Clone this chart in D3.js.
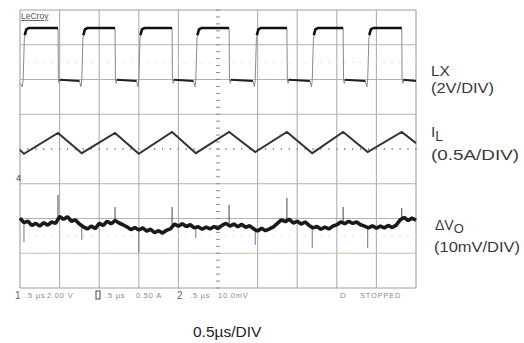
<!DOCTYPE html>
<html><head><meta charset="utf-8">
<script src="https://cdn.jsdelivr.net/npm/d3@7"></script>
<style>
html,body{margin:0;padding:0;background:#fff;}
svg{display:block;font-family:"Liberation Sans",Arial,sans-serif;}
</style></head>
<body>
<svg id="c" width="524" height="343"></svg>
<script>
// ---- data (time in µs, values in screen divisions) ----
const timeTicks = [0,0.5,1,1.5,2,2.5,3,3.5,4,4.5,5];
const divTicks = [-4,-3,-2,-1,0,1,2,3,4];
// LX switching node
const lxRise = [0.04,0.78,1.50,2.22,2.97,3.69,4.39];
const lxFall = [0.48,1.20,1.92,2.64,3.37,4.08,4.82];
const lxHigh = 3.48, lxLow = 1.99;
// inductor current
const ilTime  = [0,0.05,0.48,0.78,1.20,1.50,1.92,2.22,2.64,2.97,3.37,3.69,4.08,4.39,4.82,5.0];
const ilValue = [-0.03,-0.14,0.46,-0.12,0.46,-0.14,0.49,-0.12,0.49,-0.09,0.49,-0.12,0.49,-0.09,0.49,0.17];
// output ripple (every 0.05 µs)
const voValue = [-1.99,-2.12,-2.08,-2.20,-2.14,-2.22,-2.12,-2.19,-2.10,-2.14,
 -1.94,-2.02,-1.95,-2.08,-2.04,-2.16,-2.24,-2.30,-2.22,-2.29,
 -2.14,-2.20,-2.08,-2.15,-2.06,-2.13,-2.18,-2.24,-2.32,-2.26,
 -2.33,-2.27,-2.36,-2.31,-2.41,-2.35,-2.42,-2.34,-2.30,-2.16,
 -2.22,-2.15,-2.23,-2.18,-2.27,-2.24,-2.31,-2.25,-2.30,-2.23,
 -2.29,-2.20,-2.14,-2.22,-2.16,-2.24,-2.17,-2.25,-2.21,-2.30,
 -2.36,-2.28,-2.35,-2.30,-2.24,-2.14,-2.04,-2.09,-2.02,-2.13,
 -2.08,-2.16,-2.10,-2.20,-2.27,-2.23,-2.31,-2.25,-2.30,-2.22,
 -2.18,-2.10,-2.15,-2.08,-2.14,-2.10,-2.18,-2.22,-2.27,-2.21,
 -2.28,-2.22,-2.27,-2.20,-2.26,-2.19,-2.04,-1.97,-2.06,-1.99,-2.05];
const voStep = 0.05;
const spikeTime  = [0.48,1.20,1.92,2.64,3.37,4.08,4.82, 0.05,0.78,1.50,2.22,2.97,3.69,4.39];
const spikeValue = [-1.32,-1.67,-1.67,-1.61,-1.41,-1.67,-1.70, -2.68,-2.62,-2.99,-2.56,-2.76,-2.85,-2.85];
const channelLabels = ["LX","(2V/DIV)","(0.5A/DIV)","(10mV/DIV)"];
const statusTokens = [".5 µs","2.00 V",".5 µs","0.50 A",".5 µs","10.0mV","STOPPED"];

const svg = d3.select("#c");
const x = d3.scaleLinear().domain([0,5]).range([20,416]);
const y = d3.scaleLinear().domain([-4,4]).range([288,10]);

// grid
const g = svg.append("g");
g.selectAll("line.v").data(timeTicks.filter(t=>t!==2.5)).join("line")
  .attr("x1",d=>x(d)).attr("x2",d=>x(d)).attr("y1",y(4)).attr("y2",y(-4))
  .attr("stroke",d=>(d===0||d===5)?"#a0a0a0":"#aaaebe").attr("stroke-width",1.1);
g.selectAll("line.h").data(divTicks.filter(d=>d!==0)).join("line")
  .attr("x1",x(0)).attr("x2",x(5)).attr("y1",d=>y(d)).attr("y2",d=>y(d))
  .attr("stroke",d=>(Math.abs(d)===4)?"#a0a0a0":(d===-3?"#c2c2a8":"#b2b2ae")).attr("stroke-width",1.1);
// center dotted axes
const minorT = d3.range(0,5.0001,0.1);
g.selectAll("line.cx").data(minorT).join("line")
  .attr("x1",d=>x(d)).attr("x2",d=>x(d)).attr("y1",y(0)-1).attr("y2",y(0)+1)
  .attr("stroke","#8c8c8c").attr("stroke-width",1.2);
const minorD = d3.range(-4,4.0001,0.2);
g.selectAll("line.cy").data(minorD).join("line")
  .attr("x1",x(2.5)-2).attr("x2",x(2.5)+2).attr("y1",d=>y(d)).attr("y2",d=>y(d))
  .attr("stroke","#8c8c8c").attr("stroke-width",1);
// faint dotted reference lines
[2.5,-2.5].forEach(v=>{
  g.append("line").attr("x1",x(0)).attr("x2",x(5)).attr("y1",y(v)).attr("y2",y(v))
   .attr("stroke","#dadada").attr("stroke-dasharray","1.5,6.4");
});

// LX trace
const lxPts = [[0,lxLow-0.1]];
lxRise.forEach((r,i)=>{
  const f = lxFall[i];
  lxPts.push([r-0.01,lxLow-0.2],[r,lxLow],[r+0.015,lxHigh-0.3],[r+0.035,lxHigh-0.06],[r+0.07,lxHigh],[f,lxHigh],[f+0.005,lxLow],[f+0.015,lxLow-0.1],[f+0.025,lxLow]);
  const nr = lxRise[i+1];
  if(nr!==undefined) lxPts.push([nr-0.03,lxLow-0.03]);
  else lxPts.push([5,lxLow-0.03]);
});
const line = d3.line().x(d=>x(d[0])).y(d=>y(d[1]));
svg.append("path").attr("d",line(lxPts)).attr("fill","none").attr("stroke","#8a8a8a").attr("stroke-width",1);
lxRise.forEach((r,i)=>{
  const f=lxFall[i];
  svg.append("path").attr("d",line([[r+0.02,lxHigh-0.2],[r+0.04,lxHigh-0.04],[r+0.07,lxHigh],[f,lxHigh]]))
    .attr("fill","none").attr("stroke","#111").attr("stroke-width",2.6);
  const nr = lxRise[i+1]!==undefined?lxRise[i+1]-0.03:5;
  svg.append("path").attr("d",line([[f+0.02,lxLow],[nr,lxLow-0.03]]))
    .attr("fill","none").attr("stroke","#222").attr("stroke-width",2);
});

// IL trace
svg.append("path").attr("d",line(ilTime.map((t,i)=>[t,ilValue[i]])))
  .attr("fill","none").attr("stroke","#333").attr("stroke-width",2);

// Vo spikes
const voAt = t=>voValue[Math.min(voValue.length-1,Math.round(t/voStep))];
svg.selectAll("line.sp").data(spikeTime).join("line")
  .attr("x1",d=>x(d)).attr("x2",d=>x(d)).attr("y1",d=>y(voAt(d))).attr("y2",(d,i)=>y(spikeValue[i]))
  .attr("stroke",(d,i)=>i<7?"#444":"#777").attr("stroke-width",1);
svg.append("path").attr("d",line(voValue.map((v,i)=>[i*voStep,v])))
  .attr("fill","none").attr("stroke","#1a1a1a").attr("stroke-width",3.6).attr("stroke-linejoin","bevel");

// small scope annotations
svg.append("text").attr("x",21).attr("y",19).attr("font-size",8.5).attr("fill","#555").text("LeCroy")
  .attr("text-decoration","underline");
svg.append("text").attr("x",16).attr("y",181).attr("font-size",9).attr("fill","#444").text("4");
svg.append("text").attr("x",15).attr("y",299).attr("font-size",10).attr("fill","#666").text("1");
svg.append("text").attr("x",177).attr("y",299).attr("font-size",10).attr("fill","#666").text("2");
svg.append("rect").attr("x",96).attr("y",291).attr("width",4).attr("height",8).attr("fill","none").attr("stroke","#666").attr("stroke-width",1.2);
svg.append("text").attr("x",340).attr("y",298).attr("font-size",8).attr("fill","#888").text("D");
const stX=[25,47,105,136,190,218,360];
svg.selectAll("text.st").data(statusTokens).join("text")
  .attr("x",(d,i)=>stX[i]).attr("y",298).attr("font-size",7.5).attr("fill","#8a8a8a")
  .attr("letter-spacing",0.8).text(d=>d);

// right labels
const lab = svg.append("g").attr("fill","#3a3a3a").attr("font-size",15.5);
lab.append("text").attr("x",431).attr("y",76).text(channelLabels[0]);
lab.append("text").attr("x",431).attr("y",93).text(channelLabels[1]).attr("textLength",63).attr("lengthAdjust","spacingAndGlyphs");
const il = lab.append("text").attr("x",431).attr("y",137);
il.append("tspan").text("I");
il.append("tspan").attr("dy",4).attr("font-size",14).text("L");
lab.append("text").attr("x",431).attr("y",160).text(channelLabels[2]).attr("textLength",88).attr("lengthAdjust","spacingAndGlyphs");
const vo = lab.append("text").attr("x",435).attr("y",230);
vo.append("tspan").text("ΔV").attr("font-size",14);
vo.append("tspan").attr("dy",3).attr("font-size",13).text("O");
lab.append("text").attr("x",434).attr("y",252).text(channelLabels[3]).attr("textLength",86).attr("lengthAdjust","spacingAndGlyphs");

svg.append("text").attr("x",193).attr("y",337).attr("font-size",15.5).attr("fill","#222").text("0.5µs/DIV");
</script>
</body></html>
